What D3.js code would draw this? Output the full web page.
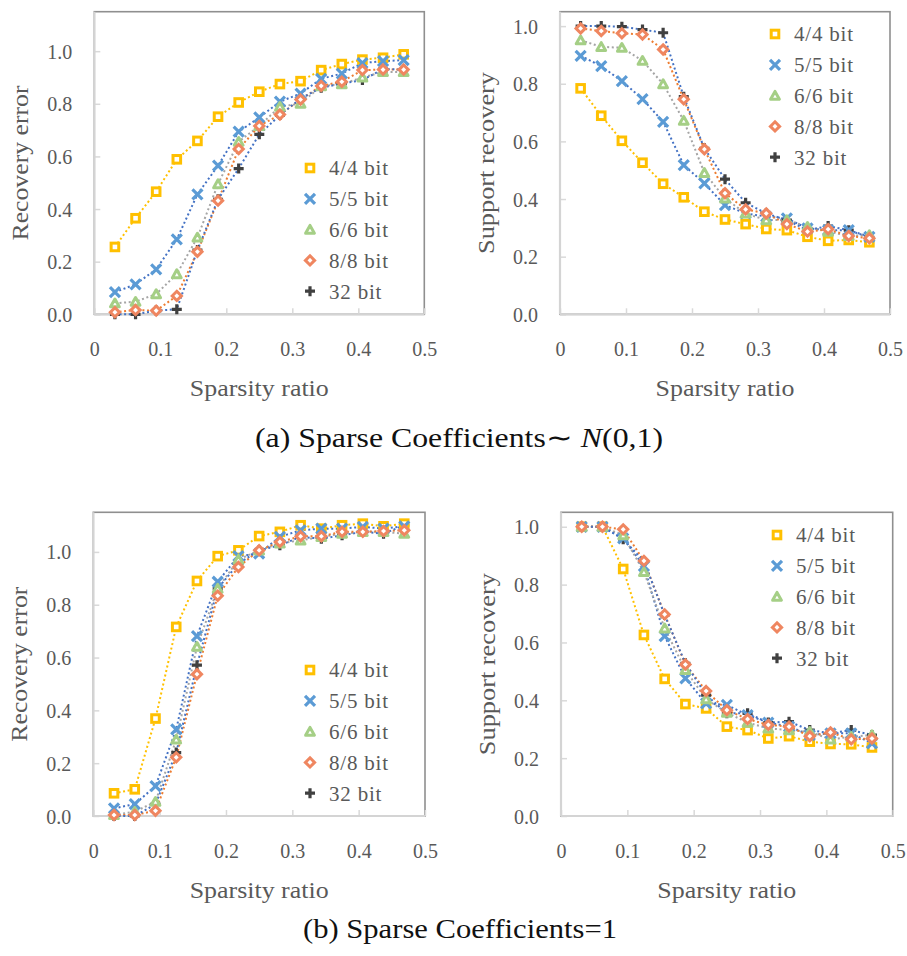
<!DOCTYPE html>
<html>
<head>
<meta charset="utf-8">
<script src="https://cdn.jsdelivr.net/npm/d3@7"></script>
<style>
  body { margin: 0; background: #fff; }
  svg { display: block; }
</style>
</head>
<body>
<svg id="fig" width="907" height="956"></svg>
<script>
// Sparsity ratios (k/32) sampled along the x axis
const sparsity = [0.03125, 0.0625, 0.09375, 0.125, 0.15625, 0.1875, 0.21875, 0.25,
                  0.28125, 0.3125, 0.34375, 0.375, 0.40625, 0.4375, 0.46875];
const seriesNames = ["4/4 bit", "5/5 bit", "6/6 bit", "8/8 bit", "32 bit"];
const xTicks = [0, 0.1, 0.2, 0.3, 0.4, 0.5];
const xTickLabels = ["0", "0.1", "0.2", "0.3", "0.4", "0.5"];
const yTicks = [0, 0.2, 0.4, 0.6, 0.8, 1.0];
const yTickLabels = ["0.0", "0.2", "0.4", "0.6", "0.8", "1.0"];

// (a) Gaussian coefficients: recovery error
const errGauss4  = [0.256, 0.365, 0.466, 0.589, 0.659, 0.751, 0.805, 0.846, 0.875, 0.886, 0.928, 0.951, 0.968, 0.975, 0.988];
const errGauss5  = [0.084, 0.114, 0.171, 0.285, 0.456, 0.565, 0.694, 0.748, 0.808, 0.839, 0.895, 0.915, 0.955, 0.962, 0.966];
const errGauss6  = [0.042, 0.048, 0.077, 0.153, 0.292, 0.495, 0.656, 0.716, 0.789, 0.801, 0.867, 0.875, 0.900, 0.921, 0.921];
const errGauss8  = [0.008, 0.016, 0.014, 0.070, 0.238, 0.432, 0.628, 0.716, 0.759, 0.816, 0.868, 0.884, 0.928, 0.930, 0.930];
const errGauss32 = [0.000, 0.000, 0.014, 0.019, 0.244, 0.437, 0.554, 0.684, 0.757, 0.820, 0.861, 0.877, 0.890, 0.932, 0.930];

// (a) Gaussian coefficients: support recovery
const supGauss4  = [0.784, 0.689, 0.602, 0.526, 0.453, 0.406, 0.356, 0.329, 0.313, 0.296, 0.292, 0.269, 0.255, 0.258, 0.250];
const supGauss5  = [0.897, 0.861, 0.809, 0.747, 0.668, 0.518, 0.454, 0.379, 0.350, 0.339, 0.333, 0.298, 0.292, 0.292, 0.269];
const supGauss6  = [0.951, 0.928, 0.925, 0.880, 0.799, 0.672, 0.491, 0.402, 0.350, 0.327, 0.327, 0.304, 0.287, 0.272, 0.275];
const supGauss8  = [0.992, 0.983, 0.975, 0.971, 0.919, 0.746, 0.573, 0.420, 0.364, 0.350, 0.313, 0.287, 0.295, 0.272, 0.264];
const supGauss32 = [1.000, 1.000, 0.998, 0.988, 0.977, 0.755, 0.576, 0.469, 0.387, 0.350, 0.327, 0.292, 0.306, 0.292, 0.267];

// (b) unit coefficients: recovery error
const errOne4  = [0.086, 0.101, 0.369, 0.716, 0.890, 0.984, 1.006, 1.060, 1.076, 1.101, 1.088, 1.101, 1.107, 1.097, 1.107];
const errOne5  = [0.029, 0.045, 0.113, 0.328, 0.681, 0.887, 0.984, 0.994, 1.057, 1.082, 1.088, 1.088, 1.095, 1.088, 1.097];
const errOne6  = [0.004, 0.016, 0.054, 0.290, 0.641, 0.861, 0.971, 1.006, 1.032, 1.044, 1.057, 1.069, 1.076, 1.076, 1.069];
const errOne8  = [0.004, 0.004, 0.020, 0.222, 0.537, 0.834, 0.943, 1.006, 1.038, 1.059, 1.059, 1.076, 1.076, 1.079, 1.082];
const errOne32 = [0.000, 0.000, 0.045, 0.240, 0.571, 0.861, 0.956, 1.006, 1.025, 1.057, 1.050, 1.063, 1.076, 1.069, 1.101];

// (b) unit coefficients: support recovery
const supOne4  = [1.000, 1.000, 0.854, 0.626, 0.474, 0.387, 0.372, 0.309, 0.297, 0.268, 0.276, 0.257, 0.249, 0.248, 0.237];
const supOne5  = [1.000, 1.000, 0.960, 0.864, 0.622, 0.476, 0.389, 0.384, 0.349, 0.323, 0.309, 0.280, 0.286, 0.286, 0.251];
const supOne6  = [1.000, 1.000, 0.971, 0.844, 0.649, 0.505, 0.404, 0.357, 0.323, 0.303, 0.297, 0.291, 0.265, 0.274, 0.280];
const supOne8  = [1.000, 1.000, 0.991, 0.882, 0.697, 0.524, 0.432, 0.366, 0.335, 0.315, 0.309, 0.276, 0.289, 0.265, 0.268];
const supOne32 = [1.000, 1.000, 0.957, 0.881, 0.695, 0.528, 0.418, 0.355, 0.355, 0.323, 0.326, 0.297, 0.286, 0.297, 0.280];

// Per-series styling: marker shape/colour and dotted connector colour
const markerColor = ["#FFC000", "#5B9BD5", "#A5CF86", "#EF8660", "#404040"];
const lineColor   = ["#FFC000", "#4472C4", "#A5A5A5", "#ED7D31", "#4472C4"];
const markerKind  = ["square", "cross", "triangle", "diamond", "plus"];
// marker paint order: 32 bit underneath, then 4/4 ... 8/8
const paintOrder = [4, 0, 1, 2, 3];

const TEXT = "#595959";
const SERIF = '"Liberation Serif", "Times New Roman", serif';
const svg = d3.select("#fig").attr("font-family", SERIF);

function drawMarker(g, kind, color, cx, cy) {
  const m = g.append("g").attr("transform", `translate(${cx},${cy})`);
  if (kind === "square") {
    m.append("rect").attr("x", -3.8).attr("y", -3.8).attr("width", 7.6).attr("height", 7.6)
      .attr("fill", "#fff").attr("stroke", color).attr("stroke-width", 3);
  } else if (kind === "cross") {
    m.append("path").attr("d", "M-5,-5L5,5M-5,5L5,-5")
      .attr("stroke", color).attr("stroke-width", 3.2).attr("fill", "none");
  } else if (kind === "triangle") {
    m.append("path").attr("d", "M0,-4.2L4.4,3.6L-4.4,3.6Z")
      .attr("fill", "#fff").attr("stroke", color).attr("stroke-width", 3).attr("stroke-linejoin", "round");
  } else if (kind === "diamond") {
    m.append("path").attr("d", "M0,-4.6L4.6,0L0,4.6L-4.6,0Z")
      .attr("fill", "#fff").attr("stroke", color).attr("stroke-width", 3);
  } else {
    m.append("path").attr("d", "M-5,0L5,0M0,-5L0,5")
      .attr("stroke", color).attr("stroke-width", 3.2).attr("fill", "none");
  }
}

function drawPanel(cfg) {
  const x = d3.scaleLinear().domain([0, 0.5]).range([cfg.left, cfg.right]);
  const y = d3.scaleLinear().domain([0, cfg.yMax]).range([cfg.bottom, cfg.top]);
  const g = svg.append("g");

  // plot frame
  g.append("rect")
    .attr("x", cfg.left).attr("y", cfg.top)
    .attr("width", cfg.right - cfg.left).attr("height", cfg.bottom - cfg.top)
    .attr("fill", "#fff").attr("stroke", "#8f8f8f").attr("stroke-width", 1.6);

  // x axis
  const xa = g.append("g").attr("transform", `translate(0,${cfg.bottom})`)
    .call(d3.axisBottom(x).tickValues(xTicks).tickFormat((d, i) => xTickLabels[i]).tickSize(-6).tickPadding(0));
  xa.attr("font-family", SERIF);
  xa.select(".domain").remove();
  xa.selectAll(".tick line").attr("stroke", "#d9d9d9").attr("stroke-width", 1.5);
  xa.selectAll(".tick text").attr("y", 35).attr("dy", "0.35em")
    .attr("fill", TEXT).style("font-size", "20px").style("font-family", SERIF);

  // y axis
  const ya = g.append("g").attr("transform", `translate(${cfg.left},0)`)
    .call(d3.axisLeft(y).tickValues(yTicks).tickFormat((d, i) => yTickLabels[i]).tickSize(-6).tickPadding(22));
  ya.attr("font-family", SERIF);
  ya.select(".domain").remove();
  ya.selectAll(".tick line").attr("stroke", "#d9d9d9").attr("stroke-width", 1.5);
  ya.selectAll(".tick text").attr("dy", "0.35em")
    .attr("fill", TEXT).style("font-size", "20px").style("font-family", SERIF);

  // axis lines (left and bottom)
  g.append("line").attr("x1", cfg.left).attr("x2", cfg.right).attr("y1", cfg.bottom).attr("y2", cfg.bottom)
    .attr("stroke", "#d4d4d4").attr("stroke-width", 2.2);
  g.append("line").attr("x1", cfg.left).attr("x2", cfg.left).attr("y1", cfg.top).attr("y2", cfg.bottom)
    .attr("stroke", "#d4d4d4").attr("stroke-width", 2.2);

  // dotted connectors
  const line = d3.line().x((d, i) => x(sparsity[i])).y(d => y(d));
  cfg.series.forEach((vals, s) => {
    g.append("path").attr("d", line(vals)).attr("fill", "none")
      .attr("stroke", lineColor[s]).attr("stroke-width", 2)
      .attr("stroke-dasharray", "2,2.6");
  });

  // markers
  paintOrder.forEach(s => {
    cfg.series[s].forEach((v, i) => drawMarker(g, markerKind[s], markerColor[s], x(sparsity[i]), y(v)));
  });

  // legend
  seriesNames.forEach((name, s) => {
    const ly = cfg.legY + s * 30.8;
    drawMarker(g, markerKind[s], markerColor[s], cfg.legX, ly);
    g.append("text").attr("x", cfg.legX + 19).attr("y", ly).attr("dy", "0.35em")
      .attr("fill", TEXT).style("font-family", SERIF).style("font-size", "21px")
      .style("letter-spacing", "0.8px").text(name);
  });

  // axis titles
  const cxp = (cfg.left + cfg.right) / 2;
  g.append("text").attr("x", cxp).attr("y", cfg.bottom + 74).attr("dy", "0.35em")
    .attr("text-anchor", "middle").attr("fill", TEXT)
    .style("font-family", SERIF).style("font-size", "23px")
    .attr("textLength", 139).attr("lengthAdjust", "spacingAndGlyphs")
    .text("Sparsity ratio");
  g.append("text")
    .attr("transform", `translate(${cfg.left - 74},${(cfg.top + cfg.bottom) / 2}) rotate(-90)`)
    .attr("dy", "0.35em").attr("text-anchor", "middle").attr("fill", TEXT)
    .style("font-family", SERIF).style("font-size", "23px")
    .attr("textLength", cfg.yTitleLen).attr("lengthAdjust", "spacingAndGlyphs")
    .text(cfg.yTitle);
}

drawPanel({ left: 94.3, right: 424.3, top: 11.7, bottom: 314.3, yMax: 1.15,
  yTitle: "Recovery error", yTitleLen: 155, legX: 310, legY: 168,
  series: [errGauss4, errGauss5, errGauss6, errGauss8, errGauss32] });
drawPanel({ left: 560, right: 890, top: 11.7, bottom: 314.3, yMax: 1.05,
  yTitle: "Support recovery", yTitleLen: 182, legX: 775, legY: 34,
  series: [supGauss4, supGauss5, supGauss6, supGauss8, supGauss32] });
drawPanel({ left: 93.3, right: 425, top: 512.3, bottom: 816, yMax: 1.15,
  yTitle: "Recovery error", yTitleLen: 155, legX: 310, legY: 670,
  series: [errOne4, errOne5, errOne6, errOne8, errOne32] });
drawPanel({ left: 561, right: 892.7, top: 512.3, bottom: 816, yMax: 1.05,
  yTitle: "Support recovery", yTitleLen: 182, legX: 777, legY: 535,
  series: [supOne4, supOne5, supOne6, supOne8, supOne32] });

// sub-figure captions
const capA = svg.append("text").attr("x", 459).attr("y", 447).attr("text-anchor", "middle")
  .attr("fill", "#111").style("font-family", SERIF).style("font-size", "27px")
  .attr("textLength", 408).attr("lengthAdjust", "spacingAndGlyphs");
capA.append("tspan").text("(a) Sparse Coefficients\u223C ");
capA.append("tspan").style("font-style", "italic").text("N");
capA.append("tspan").text("(0,1)");

svg.append("text").attr("x", 460).attr("y", 938).attr("text-anchor", "middle")
  .attr("fill", "#111").style("font-family", SERIF).style("font-size", "27px")
  .attr("textLength", 314).attr("lengthAdjust", "spacingAndGlyphs")
  .text("(b) Sparse Coefficients=1");
</script>
</body>
</html>
